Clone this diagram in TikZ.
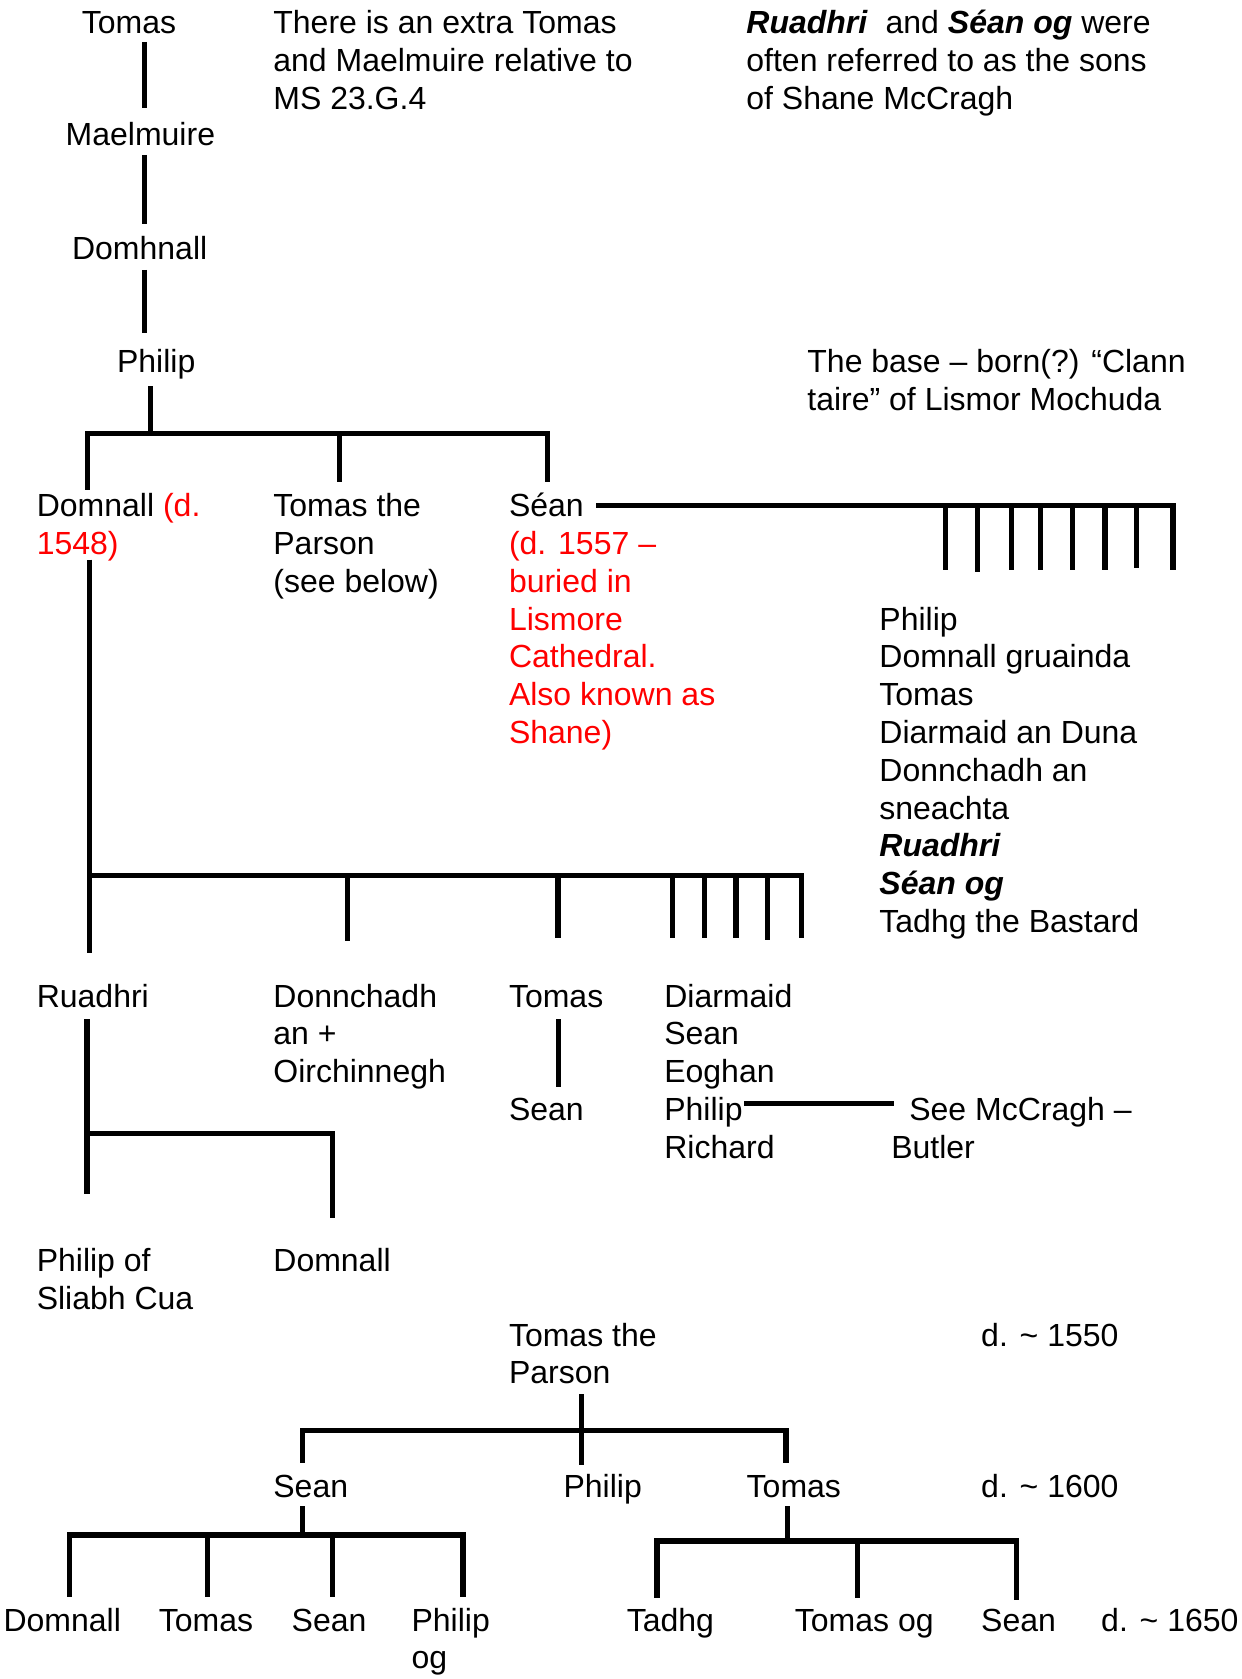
\documentclass[tikz,border=0pt]{standalone}
\usepackage{fontspec}
\setmainfont{Liberation Sans}
\usetikzlibrary{positioning}
\definecolor{ink}{HTML}{000000}
\definecolor{dred}{HTML}{FF0000}
\newcommand{\rd}[1]{\textcolor{dred}{#1}}
\newcommand{\bfit}[1]{\textbf{\textit{#1}}}
% stacked lines, baseline on the first one
\newcommand{\stack}[1]{\begin{tabular}[t]{@{}l@{}}#1\end{tabular}}

\begin{document}
\begin{tikzpicture}[
  x=0.5pt, y=-0.5pt,
  font=\fontsize{16pt}{18.9pt}\selectfont,
  who/.style={anchor=base west, inner sep=0pt, text=ink},
  ln/.style={draw=ink, line width=2.6pt},
  bar/.style={ln, line cap=rect}
]
\useasboundingbox (0,0) rectangle (1241,1679);

% upper line of descent
\node[who] (tomasA)    at (81.4,34)   {Tomas};
\node[who] (maelmuire) at (65.3,146)  {Maelmuire};
\node[who] (domhnall)  at (71.7,259.5){Domhnall};
\node[who] (philipA)   at (116.7,372.5){Philip};

\node[who] (noteMS)   at (273,34)  {\stack{There is an extra Tomas\\and Maelmuire relative to\\MS 23.G.4}};
\node[who] (noteSons) at (746,34)  {\stack{\bfit{Ruadhri}\ \ and \bfit{Séan og} were\\often referred to as the sons\\of Shane McCragh}};
\node[who] (noteBase) at (807,372.5) {\stack{The base – born(?) “Clann\\taire” of Lismor Mochuda}};

\node[who] (domnallA) at (36.4,516.6) {\stack{Domnall \rd{(d.}\\\rd{1548)}}};
\node[who] (parsonA)  at (273,516.6)  {\stack{Tomas the\\Parson\\(see below)}};
\node[who] (seanA)    at (508.6,516.6) {\stack{Séan\\\rd{(d. 1557 –}\\\rd{buried in}\\\rd{Lismore}\\\rd{Cathedral.}\\\rd{Also known as}\\\rd{Shane)}}};
\node[who] (sonsList) at (879,630) {\stack{Philip\\Domnall gruainda\\Tomas\\Diarmaid an Duna\\Donnchadh an\\sneachta\\\bfit{Ruadhri}\\\bfit{Séan og}\\Tadhg the Bastard}};

\node[who] (ruadhri)   at (36.4,1007)  {Ruadhri};
\node[who] (donnchadh) at (273,1007)   {\stack{Donnchadh\\an +\\Oirchinnegh}};
\node[who] (tomasB)    at (508.6,1007) {Tomas};
\node[who] (seanB)     at (508.6,1120.5) {Sean};
\node[who] (diarmaid)  at (663.9,1007) {\stack{Diarmaid\\Sean\\Eoghan\\Philip\\Richard}};
\node[who] (seeMcC)    at (890.9,1120.5) {\stack{\hspace*{9pt}See McCragh –\\Butler}};

\node[who] (philipSl) at (36.4,1271.6) {\stack{Philip of\\Sliabh Cua}};
\node[who] (domnallB) at (273,1271.6)  {Domnall};

% Tomas the Parson's line
\node[who] (parsonB) at (508.6,1346) {\stack{Tomas the\\Parson}};
\node[who] (d1550)   at (980.8,1346) {d. \textasciitilde{} 1550};
\node[who] (seanC)   at (273,1497)   {Sean};
\node[who] (philipC) at (563.2,1497) {Philip};
\node[who] (tomasC)  at (746.3,1497) {Tomas};
\node[who] (d1600)   at (980.8,1497) {d. \textasciitilde{} 1600};

\node[who] (domnallC) at (3.2,1631)   {Domnall};
\node[who] (tomasD)   at (158.5,1631) {Tomas};
\node[who] (seanD)    at (291.3,1631) {Sean};
\node[who] (philipOg) at (411.2,1631) {\stack{Philip\\og}};
\node[who] (tadhg)    at (626.4,1631) {Tadhg};
\node[who] (tomasOg)  at (794.5,1631) {Tomas og};
\node[who] (seanE)    at (980.8,1631) {Sean};
\node[who] (d1650)    at (1100.8,1631) {d. \textasciitilde{} 1650};

% single strokes: name/x/top/bottom
\foreach \n/\x/\ya/\yb in {v1/144.3/42/108, v2/144.3/155/224, v3/144.3/270/333,
    v4/150.7/386.5/433.6, v5/89.4/559.5/952.7, v6/87/1019.3/1194,
    v7/558.8/1019.3/1086.7, v8/581.7/1394/1465, v9/302.3/1506/1535,
    v10/787.5/1506/1541} {
  \coordinate (\n-t) at (\x,\ya);
  \coordinate (\n-b) at (\x,\yb);
  \draw[ln] (\n-t) -- (\n-b);
}

% bars: name/y/left/right
\foreach \n/\y/\xa/\xb in {b1/433.6/87.8/547.6, b2/505.4/598.5/1173,
    b3/875.7/89.4/801.7, b4/1133.3/87/332.4, b5/1103.3/746.6/891.7,
    b6/1430.5/302.3/786, b7/1535/69.6/463, b8/1541/657/1016.2} {
  \coordinate (\n-l) at (\xa,\y);
  \coordinate (\n-r) at (\xb,\y);
  \draw[bar] (\n-l) -- (\n-r);
}

% drops below the bars: bar/x/bottom
\foreach \b/\x/\yb in {b1/87.8/490, b1/339.3/481.5, b1/547.6/481.5,
    b2/945.6/569.6, b2/977.8/572, b2/1011.4/569.6, b2/1040.2/569.6,
    b2/1072.8/569.6, b2/1104.9/569.6, b2/1136.6/568, b2/1173/569.6,
    b3/347.4/941, b3/558/937.7, b3/672.7/937.7, b3/704.4/937.7,
    b3/736/937.7, b3/767.7/940, b3/801.7/937.7,
    b4/332.4/1217.7, b6/302.3/1463, b6/786/1463,
    b7/69.6/1597, b7/207.4/1597, b7/332.4/1597, b7/463/1597,
    b8/657/1598, b8/857.1/1598, b8/1016.2/1600}
  \draw[ln] (\b-l -| \x,0) -- (\x,\yb);
\end{tikzpicture}
\end{document}
